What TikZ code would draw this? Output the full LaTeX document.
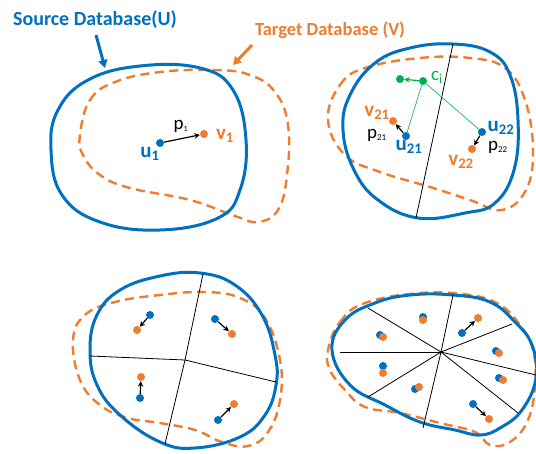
\documentclass[tikz,border=0pt]{standalone}
\usepackage{fontspec}
\setmainfont{Carlito}
\usetikzlibrary{arrows.meta}
\definecolor{myblue}{RGB}{0,112,192}
\definecolor{myorange}{RGB}{237,125,49}
\definecolor{mygreen}{RGB}{0,176,80}
\newcommand{\lbsub}[1]{\textsubscript{#1}}
\tikzset{
  srccurve/.style={draw=myblue, line width=3pt},
  tgtcurve/.style={draw=myorange, line width=2.4pt, dash pattern=on 9pt off 5.5pt},
  part/.style={draw=black, line width=0.8pt},
  bdot/.style={circle, fill=myblue, inner sep=0pt, minimum size=8pt},
  odot/.style={circle, fill=myorange, inner sep=0pt, minimum size=8pt},
  gdot/.style={circle, fill=mygreen, inner sep=0pt, minimum size=8pt},
  arr/.style={-{Stealth[length=5.5pt,width=5.5pt]}, line width=1.2pt, black},
  garr/.style={-{Stealth[length=5.5pt,width=5.5pt]}, line width=1.2pt, mygreen},
  gline/.style={draw=mygreen, line width=0.6pt},
  ulab/.style={text=myblue, font=\fontsize{21}{21}\selectfont\bfseries, inner sep=0pt},
  vlab/.style={text=myorange, font=\fontsize{21}{21}\selectfont\bfseries, inner sep=0pt},
  plab/.style={text=black, font=\fontsize{19}{19}\selectfont, inner sep=0pt},
  title/.style={font=\fontsize{20}{20}\selectfont\bfseries, inner sep=0pt},
}
\begin{document}
\begin{tikzpicture}[x=1pt,y=-1pt]
\useasboundingbox (0,0) rectangle (536,453);

% ---------- titles ----------
\node[title, text=myblue] (srct) at (95,20) {Source Database(U)};
\node[title, text=myorange, font=\fontsize{18.5}{18.5}\selectfont\bfseries] (tgtt) at (330,30) {Target Database (V)};
\coordinate (sa) at (96,35);
\coordinate (sb) at (105,68);
\coordinate (ta) at (252,45);
\coordinate (tb) at (233,65);
\draw[myblue, line width=3pt, -{Triangle[length=8pt,width=9pt]}] (sa) -- (sb);
\draw[myorange, line width=3pt, -{Triangle[length=8pt,width=9pt]}] (ta) -- (tb);

% ---------- panel 1 ----------
\draw[tgtcurve] plot[smooth cycle, tension=0.7] coordinates {(80,135) (90,100) (115,82) (160,72) (215,70) (250,75) (275,92) (288,125) (287,175) (278,210) (258,222) (235,216) (190,200) (130,188) (100,175) (83,155)};
\draw[srccurve] plot[smooth cycle, tension=0.7] coordinates {(58,110) (88,80) (140,66) (200,68) (233,90) (246,140) (240,190) (218,218) (160,230) (100,222) (62,195) (51,150)};
\node[bdot] (u1) at (160,143) {};
\node[odot] (v1) at (204,134) {};
\draw[arr] (u1) -- (v1);
\node[ulab] (u1l) at (150,154) {u\lbsub{1}};
\node[vlab] (v1l) at (225,136) {v\lbsub{1}};
\node[plab] (p1l) at (181,126) {p\lbsub{\fontsize{8}{8}\selectfont 1}};

% ---------- panel 2 ----------
\draw[tgtcurve] plot[smooth cycle, tension=0.7] coordinates {(328,120) (340,85) (365,68) (420,58) (470,58) (505,68) (525,100) (533,150) (526,190) (502,210) (470,200) (430,187) (380,172) (345,155)};
\draw[srccurve] plot[smooth cycle, tension=0.7] coordinates {(453,44) (490,52) (510,75) (518,120) (514,170) (495,203) (465,213) (418,218) (378,200) (354,170) (343,130) (350,95) (375,63) (410,48)};
\coordinate (l2a) at (453,44);
\coordinate (l2b) at (416,218);
\draw[part] (l2a) -- (l2b);
\node[gdot] (ci) at (423,81) {};
\node[gdot] (cl) at (400,79) {};
\node[bdot] (u21) at (406,136) {};
\node[odot] (v21) at (393,121) {};
\node[bdot] (u22) at (482,132) {};
\node[odot] (v22) at (472,149) {};
\draw[gline] (ci) -- (u21);
\draw[gline] (ci) -- (u22);
\draw[garr] (ci) -- (cl);
\draw[arr] (u21) -- (v21);
\draw[arr] (u22) -- (v22);
\node[text=mygreen, font=\fontsize{19}{19}\selectfont, inner sep=0pt] (cil) at (437,77) {c\lbsub{i}};
\node[vlab] (v21l) at (377,113) {v\lbsub{21}};
\node[plab] (p21l) at (377,135) {p\lbsub{\fontsize{9}{9}\selectfont 21}};
\node[ulab] (u21l) at (409,147) {u\lbsub{21}};
\node[ulab] (u22l) at (501,128) {u\lbsub{22}};
\node[plab] (p22l) at (498,147) {p\lbsub{\fontsize{9}{9}\selectfont 22}};
\node[vlab] (v22l) at (461,162) {v\lbsub{22}};

% ---------- panel 3 ----------
\draw[tgtcurve] plot[smooth cycle, tension=0.7] coordinates {(73,340) (85,315) (115,302) (160,295) (205,292) (240,298) (265,318) (280,360) (280,400) (268,432) (248,446) (222,442) (195,430) (160,423) (128,418) (100,405) (80,380)};
\draw[srccurve] plot[smooth cycle, tension=0.7] coordinates {(200,273) (235,285) (262,315) (275,355) (276,385) (265,415) (240,437) (195,448) (160,442) (120,415) (97,385) (90,350) (97,315) (120,290) (160,276)};
\coordinate (c3) at (185,360);
\coordinate (c3t) at (203,274);
\coordinate (c3b) at (165,444);
\coordinate (c3l) at (90,356);
\coordinate (c3r) at (276,382);
\draw[part] (c3t) -- (c3) -- (c3b);
\draw[part] (c3l) -- (c3) -- (c3r);
\node[bdot] (a1) at (150,315) {};
\node[odot] (b1) at (137,330) {};
\node[bdot] (a2) at (215,319) {};
\node[odot] (b2) at (232,334) {};
\node[bdot] (a3) at (140,398) {};
\node[odot] (b3) at (141,377) {};
\node[bdot] (a4) at (218,420) {};
\node[odot] (b4) at (234,404) {};
\draw[arr] (a1) -- (b1);
\draw[arr] (a2) -- (b2);
\draw[arr] (a3) -- (b3);
\draw[arr] (a4) -- (b4);

% ---------- panel 4 ----------
\draw[tgtcurve] plot[smooth cycle, tension=0.7] coordinates {(328,350) (340,322) (365,303) (420,293) (470,295) (500,305) (520,325) (533,350) (535,385) (528,420) (510,442) (490,445) (475,432) (440,423) (400,413) (365,407) (345,390) (330,370)};
\draw[srccurve] plot[smooth cycle, tension=0.7] coordinates {(453,295) (490,302) (515,322) (532,345) (536,378) (522,410) (500,428) (480,435) (455,430) (420,422) (385,405) (350,385) (332,350) (345,320) (375,303) (410,295)};
\coordinate (c4) at (441,352);
\coordinate (e1) at (453,295);
\coordinate (e2) at (368,308);
\coordinate (e3) at (340,352);
\coordinate (e4) at (368,397);
\coordinate (e5) at (423,428);
\coordinate (e6) at (518,413);
\coordinate (e7) at (536,375);
\coordinate (e8) at (512,324);
\foreach \e in {e1,e2,e3,e4,e5,e6,e7,e8} { \draw[part] (c4) -- (\e); }
\node[bdot] (q1) at (423,317) {};
\node[odot] (r1) at (423,320) {};
\node[bdot] (q2) at (380,335) {};
\node[odot] (r2) at (383,337) {};
\node[bdot] (q3) at (462,333) {};
\node[odot] (r3) at (478,318) {};
\node[bdot] (q4) at (496,351) {};
\node[odot] (r4) at (499,353) {};
\node[bdot] (q5) at (499,378) {};
\node[odot] (r5) at (503,380) {};
\node[bdot] (q6) at (383,366) {};
\node[odot] (r6) at (383,373) {};
\node[bdot] (q7) at (415,389) {};
\node[odot] (r7) at (419,387) {};
\node[bdot] (q8) at (473,404) {};
\node[odot] (r8) at (489,419) {};
\draw[arr] (q3) -- (r3);
\draw[arr] (q8) -- (r8);
\end{tikzpicture}
\end{document}
